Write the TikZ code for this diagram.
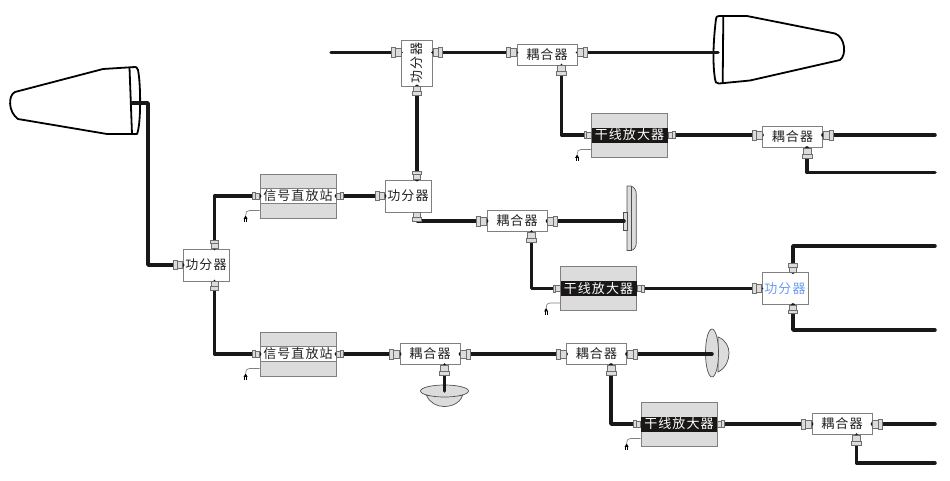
\documentclass[tikz,border=0pt]{standalone}
\usepackage{fontspec}
\newfontfamily\cjk[LetterSpace=8]{Noto Sans CJK SC}
\usetikzlibrary{calc}

\begin{document}
\begin{tikzpicture}[x=1pt, y=-1pt,
    boxtext/.style={font=\fontsize{13}{15}\selectfont\cjk, inner sep=0pt, text=textColour},
    splitbox/.style={boxtext, draw=edgeColour, fill=white, line width=0.8pt, minimum width=46pt, minimum height=32pt},
    cplbox/.style={boxtext, draw=edgeColour, fill=white, line width=0.8pt, minimum width=60pt, minimum height=21pt},
    rackbox/.style={draw=edgeColour, fill=panelColour, line width=0.8pt, inner sep=0pt, minimum width=76pt, minimum height=44pt},
    repband/.style={boxtext, draw=edgeColour, fill=white, line width=0.6pt, minimum width=76pt, minimum height=15pt},
    ampband/.style={boxtext, fill=wireColour, text=white, minimum width=76pt, minimum height=15pt},
    wire/.style={draw=wireColour, line width=3.5pt, line join=round, line cap=round},
    antenna/.style={draw=black, fill=white, line width=1.8pt, line join=round},
    dome/.style={draw=domeEdge, fill=panelColour, line width=0.7pt},
    port/.pic={
        \draw[draw=portEdge, fill=panelColour, line width=0.7pt] (0,-4) rectangle (6,4);
        \draw[draw=portEdge, fill=panelColour, line width=0.7pt] (6,-5) rectangle (10,5);
    },
    powercord/.pic={
        \draw[draw=edgeColour, line width=0.7pt] (0,-8) -- (-10,-8) .. controls (-13,-8) and (-14,-6) .. (-14,-3);
        \fill[black] (-16,0.5) -- (-14,-3) -- (-12,0.5) -- cycle;
        \draw[black, line width=0.8pt] (-15.2,0) -- (-15.2,4) (-12.8,0) -- (-12.8,4);
    }]
    \definecolor{wireColour}{HTML}{1A1717}
    \definecolor{edgeColour}{HTML}{808080}
    \definecolor{portEdge}{HTML}{6E6E6E}
    \definecolor{panelColour}{HTML}{DCDCDC}
    \definecolor{domeEdge}{HTML}{505050}
    \definecolor{textColour}{HTML}{222222}
    \definecolor{blueText}{HTML}{6A9CF0}

    \useasboundingbox (0,0) rectangle (950,480);

    % Power splitters
    \node[splitbox] (splitA) at (206,265) {功分器};
    \node[splitbox] (splitB) at (408,196) {功分器};
    \node[splitbox, minimum width=31pt, minimum height=46pt] (splitC) at (417,63) {\rotatebox{90}{功分器}};
    \node[splitbox, text=blueText] (splitD) at (785,288.5) {功分器};

    % Couplers
    \node[cplbox] (cplA) at (547,54.5) {耦合器};
    \node[cplbox] (cplB) at (792.5,137) {耦合器};
    \node[cplbox] (cplC) at (517,221) {耦合器};
    \node[cplbox] (cplD) at (430,354) {耦合器};
    \node[cplbox] (cplE) at (596.5,354) {耦合器};
    \node[cplbox] (cplF) at (842,424) {耦合器};

    % Repeaters and line amplifiers
    \node[rackbox] (rep1) at (298,196) {};
    \node[rackbox] (rep2) at (298,354) {};
    \node[rackbox] (amp1) at (629.5,135) {};
    \node[rackbox] (amp2) at (598.5,288.5) {};
    \node[rackbox] (amp3) at (679,424) {};
    \node[repband] (rep1band) at (rep1) {信号直放站};
    \node[repband] (rep2band) at (rep2) {信号直放站};
    \node[ampband] (amp1band) at (amp1) {干线放大器};
    \node[ampband] (amp2band) at (amp2) {干线放大器};
    \node[ampband] (amp3band) at (amp3) {干线放大器};

    % Tap points under the couplers
    \foreach \n in {A,B,C,D,E,F}
        \coordinate (tap\n) at ([xshift=14.5pt]cpl\n.south);
    \coordinate (cplAin) at ([yshift=2pt]cplA.west);
    \coordinate (cplAout) at ([yshift=2pt]cplA.east);
    \coordinate (cplBin) at (cplB.west |- amp1.east);
    \coordinate (cplBout) at (cplB.east |- amp1.east);
    \coordinate (splitCin) at (splitC.west |- cplAin);
    \coordinate (splitCout) at (splitC.east |- cplAin);
    \coordinate (splitAup) at ([xshift=8.5pt]splitA.north);
    \coordinate (splitAdown) at ([xshift=8.5pt]splitA.south);
    \coordinate (splitBup) at ([xshift=9pt]splitB.north);
    \coordinate (splitBdown) at ([xshift=9pt]splitB.south);
    \coordinate (splitDup) at ([xshift=8pt]splitD.north);
    \coordinate (splitDdown) at ([xshift=8pt]splitD.south);

    % Antenna feed points and free line ends
    \coordinate (antLeft) at (132,103);
    \coordinate (antLeftBend) at (148,103);
    \coordinate (antTop) at (718,52.5);
    \coordinate (panelFeed) at (624,221);
    \coordinate (domeRight) at (712,354);
    \coordinate (domeDown) at (444.5,391);
    \coordinate (endC) at (331,52.5);
    \coordinate (endB) at (935,135);
    \coordinate (endBtap) at (935,172.5);
    \coordinate (endDup) at (935,246);
    \coordinate (endDdown) at (935,330);
    \coordinate (endF) at (935,424);
    \coordinate (endFtap) at (935,463);

    % Draw antennas
    \draw[antenna] (135,67) -- (103,69) -- (15,92) .. controls (8,95) and (8,112) .. (18,119) -- (107,134) -- (137,134)
        .. controls (141,125) and (141,85) .. (138,70) .. controls (137,67) and (136,67) .. (135,67) -- cycle;
    \draw[antenna] (129.5,67.5) -- (132,134);
    \draw[antenna] (719,16) -- (747,16) -- (835,33.5) .. controls (845,37) and (847,55) .. (840,60) -- (750,80.5) -- (719,83.5)
        .. controls (716,83.5) and (715,82) .. (715,79) .. controls (712,60) and (714,35) .. (716,19) .. controls (716,17) and (717,16) .. (719,16) -- cycle;
    \draw[antenna] (723.3,16.5) -- (722.7,83);
    \draw[dome] (627,186) -- (631,186) .. controls (634,187) and (636.3,190) .. (636.3,194) -- (636.3,243) .. controls (636.3,247) and (634,250) .. (631,250.5) -- (627,250.5) -- cycle;
    \draw[dome] (631,186) -- (631,250.5);
    \draw[dome] (623.5,212) rectangle (627,230);
    \draw[dome] (718,337) .. controls (726,340) and (729,347) .. (729,353) .. controls (729,360) and (726,368) .. (718,372) -- cycle;
    \draw[dome] (712,353) ellipse (6.5 and 24);
    \draw[dome] (426.5,395.5) .. controls (430,403) and (437,406.5) .. (444,406.5) .. controls (452,406.5) and (460,403) .. (462.5,395.5) -- cycle;
    \draw[dome] (444.5,391) ellipse (24 and 6);

    % Draw cables
    \draw[wire] (antLeft) -- (antLeftBend) |- (splitA.west);
    \draw[wire] (splitAup) |- (rep1.west);
    \draw[wire] (splitAdown) |- (rep2.west);
    \draw[wire] (rep1.east) -- (splitB.west);
    \draw[wire] (splitBup) -- (splitC.south);
    \draw[wire] (endC) -- (splitCin);
    \draw[wire] (splitCout) -- (cplAin);
    \draw[wire] (cplAout) -- (antTop);
    \draw[wire] (tapA) |- (amp1.west);
    \draw[wire] (amp1.east) -- (cplBin);
    \draw[wire] (cplBout) -- (endB);
    \draw[wire] (tapB) |- (endBtap);
    \draw[wire] ([yshift=-7pt]splitBdown) |- (cplC.west);
    \draw[wire] (cplC.east) -- (panelFeed);
    \draw[wire] (tapC) |- (amp2.west);
    \draw[wire] (amp2.east) -- (splitD.west);
    \draw[wire] (splitDup) |- (endDup);
    \draw[wire] (splitDdown) |- (endDdown);
    \draw[wire] (rep2.east) -- (cplD.west);
    \draw[wire] (cplD.east) -- (cplE.west);
    \draw[wire] (cplE.east) -- (domeRight);
    \draw[wire] (tapD) -- (domeDown);
    \draw[wire] (tapE) |- (amp3.west);
    \draw[wire] (amp3.east) -- (cplF.west);
    \draw[wire] (cplF.east) -- (endF);
    \draw[wire] (tapF) |- (endFtap);

    % Draw connectors
    \foreach \p/\r/\s in {splitA.west/180/0.95, splitAup/90/0.85, splitAdown/270/0.85,
            splitB.west/180/0.95, splitBup/90/0.85, splitBdown/270/0.85,
            splitCin/180/0.95, splitCout/0/0.95, splitC.south/270/0.9,
            splitD.west/180/0.95, splitDup/90/0.85, splitDdown/270/0.85,
            cplAin/180/1, cplAout/0/1, tapA/270/1,
            cplBin/180/1, cplBout/0/1, tapB/270/1,
            cplC.west/180/1, cplC.east/0/1, tapC/270/1,
            cplD.west/180/1, cplD.east/0/1, tapD/270/1,
            cplE.west/180/1, cplE.east/0/1, tapE/270/1,
            cplF.west/180/1, cplF.east/0/1, tapF/270/1,
            rep1.west/180/0.72, rep1.east/0/0.72, rep2.west/180/0.72, rep2.east/0/0.72,
            amp1.west/180/0.72, amp1.east/0/0.72, amp2.west/180/0.72, amp2.east/0/0.72,
            amp3.west/180/0.72, amp3.east/0/0.72}
        \pic[rotate=\r, scale=\s] at (\p) {port};

    % Mains leads
    \foreach \n in {rep1,rep2,amp1,amp2,amp3}
        \pic at (\n.south west) {powercord};

\end{tikzpicture}
\end{document}
